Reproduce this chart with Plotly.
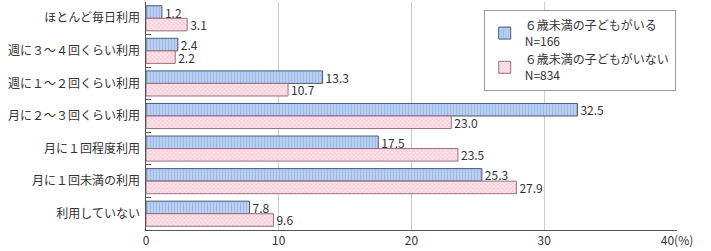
import plotly.graph_objects as go

categories = ["ほとんど毎日利用", "週に３～４回くらい利用", "週に１～２回くらい利用",
              "月に２～３回くらい利用", "月に１回程度利用", "月に１回未満の利用", "利用していない"]
with_child = [1.2, 2.4, 13.3, 32.5, 17.5, 25.3, 7.8]
without_child = [3.1, 2.2, 10.7, 23.0, 23.5, 27.9, 9.6]
series_names = ["６歳未満の子どもがいる<br>N=166", "６歳未満の子どもがいない<br>N=834"]
x_ticks = [0, 10, 20, 30, 40]
x_tick_text = ["0", "10", "20", "30", "40(%)"]

font_family = "Noto Sans CJK JP, Noto Sans, sans-serif"

fig = go.Figure()
fig.add_trace(go.Bar(
    y=categories, x=with_child, orientation="h", name=series_names[0],
    text=[f"{v:.1f}" for v in with_child], textposition="outside", constraintext="none",
    textfont=dict(size=12, color="#333333"), cliponaxis=False,
    marker=dict(color="#a9c5ee", line=dict(color="#4d5a72", width=1),
                pattern=dict(shape="|", fgcolor="#7fa3dc", bgcolor="#bcd3f4", size=3, solidity=0.4)),
))
fig.add_trace(go.Bar(
    y=categories, x=without_child, orientation="h", name=series_names[1],
    text=[f"{v:.1f}" for v in without_child], textposition="outside", constraintext="none",
    textfont=dict(size=12, color="#333333"), cliponaxis=False,
    marker=dict(color="#fbd3de", line=dict(color="#9a6f7c", width=1),
                pattern=dict(shape="x", fgcolor="#f4a9bd", bgcolor="#fde9ef", size=3, solidity=0.5)),
))

fig.update_layout(
    width=711, height=251,
    margin=dict(l=146, r=34, t=2, b=21),
    barmode="group", bargap=0.23, bargroupgap=0,
    plot_bgcolor="white", paper_bgcolor="white",
    font=dict(family=font_family, size=12, color="#333333"),
    legend=dict(x=0.636, y=0.965, xanchor="left", yanchor="top",
                bgcolor="white", bordercolor="#999999", borderwidth=1,
                font=dict(size=12, color="#333333"), tracegroupgap=2,
                itemwidth=30),
    xaxis=dict(range=[0, 40], tickvals=x_ticks, ticktext=x_tick_text,
               showgrid=True, gridcolor="#cccccc", gridwidth=1,
               showline=True, linecolor="#555555", linewidth=1,
               zeroline=False, ticks="", tickfont=dict(size=12, color="#333333")),
    yaxis=dict(autorange="reversed", showline=True, linecolor="#555555", linewidth=1,
               ticks="inside", tickson="boundaries", ticklen=5, tickcolor="#555555",
               showgrid=False, tickfont=dict(size=12, color="#333333"), ticksuffix=" "),
)

fig.write_html("out.html")
